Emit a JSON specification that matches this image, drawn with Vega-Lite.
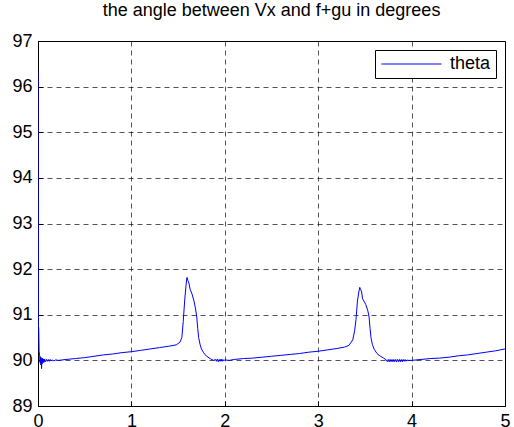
{
  "$schema": "https://vega.github.io/schema/vega-lite/v6.json",
  "width": 467,
  "height": 365,
  "autosize": {"type": "none"},
  "padding": {"left": 38, "top": 41, "right": 9, "bottom": 21},
  "background": "white",
  "title": {"text": "the angle between Vx and f+gu in degrees", "font": "Liberation Sans", "fontSize": 18, "fontWeight": "normal", "color": "black", "offset": 12},
  "data": {"values": [
    {"t": 0, "theta": 96.33}, {"t": 0.003, "theta": 90.78}, {"t": 0.008, "theta": 90.7}, {"t": 0.012, "theta": 90.2},
    {"t": 0.018, "theta": 90.1}, {"t": 0.022, "theta": 89.95}, {"t": 0.026, "theta": 90.08}, {"t": 0.03, "theta": 89.9},
    {"t": 0.034, "theta": 90.06}, {"t": 0.038, "theta": 89.82}, {"t": 0.042, "theta": 90.05}, {"t": 0.046, "theta": 89.93},
    {"t": 0.05, "theta": 90.04}, {"t": 0.055, "theta": 89.95}, {"t": 0.06, "theta": 90.03}, {"t": 0.065, "theta": 89.96},
    {"t": 0.07, "theta": 90.03}, {"t": 0.08, "theta": 89.97}, {"t": 0.09, "theta": 90.02}, {"t": 0.1, "theta": 89.98},
    {"t": 0.11, "theta": 90.02}, {"t": 0.12, "theta": 89.98}, {"t": 0.13, "theta": 90.02}, {"t": 0.14, "theta": 89.99},
    {"t": 0.15, "theta": 90.01}, {"t": 0.17, "theta": 89.99}, {"t": 0.19, "theta": 90.01}, {"t": 0.22, "theta": 90.0},
    {"t": 0.3, "theta": 90.02}, {"t": 0.4, "theta": 90.04}, {"t": 0.5, "theta": 90.06}, {"t": 0.6, "theta": 90.09},
    {"t": 0.7, "theta": 90.12}, {"t": 0.8, "theta": 90.14}, {"t": 0.9, "theta": 90.17}, {"t": 1.0, "theta": 90.19},
    {"t": 1.1, "theta": 90.22}, {"t": 1.2, "theta": 90.25}, {"t": 1.3, "theta": 90.28}, {"t": 1.4, "theta": 90.31},
    {"t": 1.48, "theta": 90.34}, {"t": 1.52, "theta": 90.4}, {"t": 1.54, "theta": 90.5}, {"t": 1.555, "theta": 90.85},
    {"t": 1.57, "theta": 91.3}, {"t": 1.585, "theta": 91.65}, {"t": 1.595, "theta": 91.82}, {"t": 1.605, "theta": 91.75},
    {"t": 1.615, "theta": 91.7}, {"t": 1.63, "theta": 91.55}, {"t": 1.65, "theta": 91.45}, {"t": 1.67, "theta": 91.3},
    {"t": 1.685, "theta": 91.15}, {"t": 1.7, "theta": 90.95}, {"t": 1.71, "theta": 90.7}, {"t": 1.72, "theta": 90.5},
    {"t": 1.735, "theta": 90.35}, {"t": 1.75, "theta": 90.25}, {"t": 1.77, "theta": 90.18}, {"t": 1.79, "theta": 90.12},
    {"t": 1.82, "theta": 90.07}, {"t": 1.85, "theta": 90.03}, {"t": 1.88, "theta": 90.0}, {"t": 1.9, "theta": 90.02},
    {"t": 1.91, "theta": 89.98}, {"t": 1.92, "theta": 90.03}, {"t": 1.93, "theta": 89.97}, {"t": 1.94, "theta": 90.02},
    {"t": 1.95, "theta": 89.98}, {"t": 1.96, "theta": 90.03}, {"t": 1.97, "theta": 89.98}, {"t": 1.98, "theta": 90.02},
    {"t": 1.99, "theta": 89.99}, {"t": 2.0, "theta": 90.01}, {"t": 2.05, "theta": 90.0}, {"t": 2.1, "theta": 90.02},
    {"t": 2.2, "theta": 90.04}, {"t": 2.3, "theta": 90.05}, {"t": 2.4, "theta": 90.07}, {"t": 2.5, "theta": 90.09},
    {"t": 2.6, "theta": 90.11}, {"t": 2.7, "theta": 90.13}, {"t": 2.8, "theta": 90.15}, {"t": 2.9, "theta": 90.18},
    {"t": 3.0, "theta": 90.2}, {"t": 3.1, "theta": 90.23}, {"t": 3.2, "theta": 90.26}, {"t": 3.28, "theta": 90.29},
    {"t": 3.33, "theta": 90.33}, {"t": 3.37, "theta": 90.45}, {"t": 3.39, "theta": 90.65}, {"t": 3.405, "theta": 90.9},
    {"t": 3.42, "theta": 91.3}, {"t": 3.435, "theta": 91.5}, {"t": 3.445, "theta": 91.6}, {"t": 3.455, "theta": 91.55},
    {"t": 3.465, "theta": 91.5}, {"t": 3.475, "theta": 91.35}, {"t": 3.49, "theta": 91.3}, {"t": 3.51, "theta": 91.22},
    {"t": 3.53, "theta": 91.1}, {"t": 3.545, "theta": 90.95}, {"t": 3.555, "theta": 90.7}, {"t": 3.565, "theta": 90.5},
    {"t": 3.58, "theta": 90.35}, {"t": 3.6, "theta": 90.24}, {"t": 3.63, "theta": 90.15}, {"t": 3.66, "theta": 90.1},
    {"t": 3.7, "theta": 90.05}, {"t": 3.73, "theta": 90.01}, {"t": 3.74, "theta": 89.97}, {"t": 3.75, "theta": 90.02},
    {"t": 3.76, "theta": 89.97}, {"t": 3.77, "theta": 90.02}, {"t": 3.78, "theta": 89.97}, {"t": 3.79, "theta": 90.02},
    {"t": 3.8, "theta": 89.97}, {"t": 3.81, "theta": 90.02}, {"t": 3.82, "theta": 89.97}, {"t": 3.83, "theta": 90.02},
    {"t": 3.84, "theta": 89.97}, {"t": 3.85, "theta": 90.02}, {"t": 3.86, "theta": 89.97}, {"t": 3.87, "theta": 90.02},
    {"t": 3.88, "theta": 89.97}, {"t": 3.89, "theta": 90.02}, {"t": 3.9, "theta": 89.97}, {"t": 3.91, "theta": 90.02},
    {"t": 3.92, "theta": 89.98}, {"t": 3.93, "theta": 90.02}, {"t": 3.94, "theta": 89.98}, {"t": 3.95, "theta": 90.01},
    {"t": 3.96, "theta": 90.0}, {"t": 4.0, "theta": 90.0}, {"t": 4.1, "theta": 90.02}, {"t": 4.2, "theta": 90.04},
    {"t": 4.3, "theta": 90.05}, {"t": 4.4, "theta": 90.07}, {"t": 4.5, "theta": 90.1}, {"t": 4.6, "theta": 90.12},
    {"t": 4.7, "theta": 90.15}, {"t": 4.8, "theta": 90.18}, {"t": 4.9, "theta": 90.21}, {"t": 5.0, "theta": 90.25}
  ]},
  "transform": [{"calculate": "'theta'", "as": "series"}],
  "mark": {"type": "line", "strokeWidth": 1, "clip": true},
  "encoding": {
    "x": {"field": "t", "type": "quantitative", "scale": {"domain": [0, 5], "nice": false, "zero": false},
      "axis": {"values": [0, 1, 2, 3, 4, 5], "title": null, "format": "d"}},
    "y": {"field": "theta", "type": "quantitative", "scale": {"domain": [89, 97], "nice": false, "zero": false},
      "axis": {"values": [89, 90, 91, 92, 93, 94, 95, 96, 97], "title": null, "format": "d"}},
    "color": {"field": "series", "type": "nominal", "scale": {"domain": ["theta"], "range": ["#0000ff"]},
      "legend": {"title": null, "orient": "top-right", "offset": 9, "strokeColor": "black", "fillColor": "white",
        "padding": 5, "symbolType": "M-1,0H7", "symbolSize": 225, "symbolStrokeWidth": 1,
        "labelFont": "Liberation Sans", "labelFontSize": 18, "labelColor": "black", "labelOffset": 52}}
  },
  "config": {
    "view": {"stroke": "black", "strokeWidth": 1},
    "axis": {
      "labelFont": "Liberation Sans", "labelFontSize": 18, "labelColor": "black",
      "domainColor": "black", "domainWidth": 1, "tickColor": "black", "tickSize": -5, "labelPadding": 11,
      "grid": true, "gridColor": "black", "gridDash": [5, 4], "gridWidth": 0.8, "gridOpacity": 0.85,
      "labelFlush": false, "labelOverlap": false
    }
  }
}
